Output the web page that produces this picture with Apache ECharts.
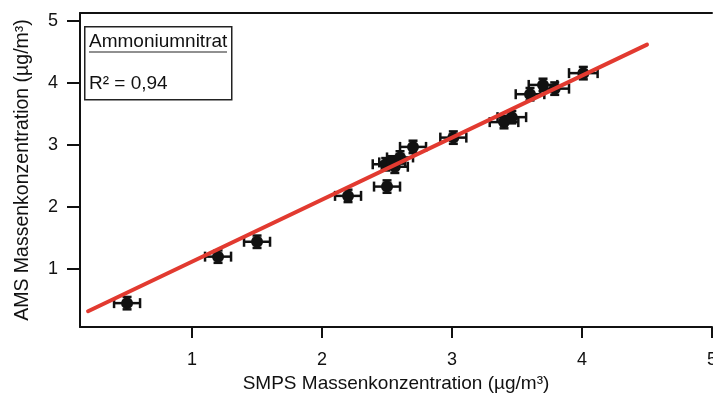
<!DOCTYPE html>
<html>
<head>
<meta charset="utf-8">
<style>
  html, body { margin: 0; padding: 0; background: #fff; }
  #chart { width: 713px; height: 394px; }
</style>
<script src="https://cdn.jsdelivr.net/npm/echarts@6/dist/echarts.min.js"></script>
</head>
<body>
<div id="chart"></div>
<script>
// SMPS vs. AMS mass concentration (µg/m³) for ammonium nitrate
const smps = [0.50, 1.20, 1.50, 2.20, 2.50, 2.49, 2.54, 2.56, 2.60, 2.70, 3.01, 3.40, 3.46, 3.60, 3.70, 3.79, 4.01];
const ams  = [0.45, 1.20, 1.44, 2.18, 2.33, 2.69, 2.72, 2.65, 2.80, 2.97, 3.12, 3.37, 3.45, 3.82, 3.97, 3.91, 4.16];
const smpsErr = [0.10, 0.10, 0.10, 0.10, 0.10, 0.10, 0.10, 0.10, 0.10, 0.10, 0.10, 0.11, 0.11, 0.11, 0.11, 0.11, 0.11];
const amsErr  = [0.10, 0.10, 0.10, 0.10, 0.10, 0.10, 0.10, 0.10, 0.10, 0.10, 0.10, 0.10, 0.10, 0.10, 0.10, 0.10, 0.10];

// linear fit end points
const fitX = [0.20, 4.50];
const fitY = [0.32, 4.62];

const tickValues = [1, 2, 3, 4, 5];
const seriesTitle = 'Ammoniumnitrat';
const r2Text = 'R² = 0,94';

const FONT = '"Liberation Sans", Arial, Helvetica, sans-serif';
const AXIS_COLOR = '#111';
const TEXT_COLOR = '#111';
const MARK_COLOR = '#111';

const points = smps.map((x, i) => [x, ams[i]]);
const errData = smps.map((x, i) => [x, ams[i], smpsErr[i], amsErr[i]]);
const fitData = fitX.map((x, i) => [x, fitY[i]]);

function renderErr(params, api) {
  const x = api.value(0), y = api.value(1), ex = api.value(2), ey = api.value(3);
  const l = api.coord([x - ex, y]);
  const r = api.coord([x + ex, y]);
  const t = api.coord([x, y + ey]);
  const b = api.coord([x, y - ey]);
  const capH = 5, capW = 4.5;
  const st = { stroke: MARK_COLOR, lineWidth: 2.5 };
  return {
    type: 'group',
    children: [
      { type: 'line', shape: { x1: l[0], y1: l[1], x2: r[0], y2: r[1] }, style: st },
      { type: 'line', shape: { x1: l[0], y1: l[1] - capH, x2: l[0], y2: l[1] + capH }, style: st },
      { type: 'line', shape: { x1: r[0], y1: r[1] - capH, x2: r[0], y2: r[1] + capH }, style: st },
      { type: 'line', shape: { x1: t[0], y1: t[1], x2: b[0], y2: b[1] }, style: st },
      { type: 'line', shape: { x1: t[0] - capW, y1: t[1], x2: t[0] + capW, y2: t[1] }, style: st },
      { type: 'line', shape: { x1: b[0] - capW, y1: b[1], x2: b[0] + capW, y2: b[1] }, style: st }
    ]
  };
}

const chart = echarts.init(document.getElementById('chart'), null, { renderer: 'canvas' });

const axisLabelStyle = { color: TEXT_COLOR, fontFamily: FONT, fontSize: 18 };

chart.setOption({
  animation: false,
  backgroundColor: '#fff',
  grid: { left: 80, right: 1, top: 13, bottom: 67, outerBoundsMode: 'none', containLabel: false },
  xAxis: [
    {
      type: 'value', min: 0.138, max: 5.0,
      name: 'SMPS Massenkonzentration (µg/m³)',
      nameLocation: 'middle', nameGap: 40,
      nameTextStyle: { color: TEXT_COLOR, fontFamily: FONT, fontSize: 19 },
      axisLine: { show: true, onZero: false, lineStyle: { color: AXIS_COLOR, width: 2 } },
      axisTick: { show: true, inside: false, length: 11, customValues: tickValues, lineStyle: { color: AXIS_COLOR, width: 2 } },
      axisLabel: Object.assign({ margin: 24, customValues: tickValues, showMinLabel: true, showMaxLabel: true }, axisLabelStyle),
      splitLine: { show: false }
    },
    {
      type: 'value', position: 'top', min: 0.138, max: 5.0,
      axisLine: { show: true, onZero: false, lineStyle: { color: AXIS_COLOR, width: 2 } },
      axisTick: { show: false }, axisLabel: { show: false }, splitLine: { show: false }
    }
  ],
  yAxis: {
    type: 'value', min: 0.065, max: 5.13,
    name: 'AMS Massenkonzentration (µg/m³)',
    nameLocation: 'middle', nameGap: 47,
    nameTextStyle: { color: TEXT_COLOR, fontFamily: FONT, fontSize: 19.5 },
    axisLine: { show: true, onZero: false, lineStyle: { color: AXIS_COLOR, width: 2 } },
    axisTick: { show: true, inside: false, length: 13, customValues: tickValues, lineStyle: { color: AXIS_COLOR, width: 2 } },
    axisLabel: Object.assign({ margin: 22, customValues: tickValues }, axisLabelStyle),
    splitLine: { show: false }
  },
  series: [
    {
      type: 'custom', renderItem: renderErr, data: errData, z: 2,
      encode: { x: 0, y: 1 }, clip: false
    },
    {
      type: 'scatter', data: points, symbol: 'circle', symbolSize: 12, z: 3,
      itemStyle: { color: MARK_COLOR, opacity: 1 },
      emphasis: { disabled: true }
    },
    {
      type: 'line', data: fitData, showSymbol: false, z: 4,
      lineStyle: { color: '#e23a30', width: 4, cap: 'round' }
    }
  ],
  graphic: [
    {
      type: 'rect', left: 84, top: 26, z: 10,
      shape: { width: 147, height: 73 },
      style: { fill: '#fff', stroke: '#222', lineWidth: 1.5 }
    },
    {
      type: 'text', x: 89, y: 41.5, z: 11,
      style: { text: seriesTitle, fill: TEXT_COLOR, font: '19px ' + FONT, textVerticalAlign: 'middle' }
    },
    {
      type: 'line', z: 11,
      shape: { x1: 89, y1: 52, x2: 227, y2: 52 },
      style: { stroke: '#222', lineWidth: 1.2 }
    },
    {
      type: 'text', x: 89, y: 84, z: 11,
      style: { text: r2Text, fill: TEXT_COLOR, font: '19px ' + FONT, textVerticalAlign: 'middle' }
    }
  ]
});
</script>
</body>
</html>
